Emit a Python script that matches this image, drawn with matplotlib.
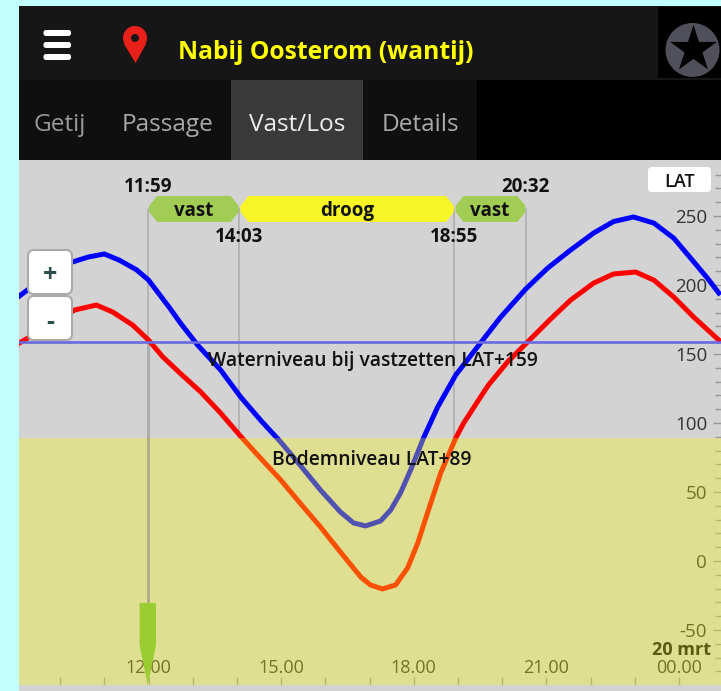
import matplotlib
matplotlib.use("Agg")
import matplotlib.pyplot as plt
from matplotlib.patches import FancyBboxPatch, Rectangle, Circle, Polygon

# --- data ---
blue_t = [9.08, 9.26, 10.28, 10.64, 11.0, 11.34, 11.73, 12.0, 12.48, 12.72, 13.11, 13.63, 14.08, 14.53, 14.99,
          15.44, 15.89, 16.34, 16.64, 16.91, 17.25, 17.48, 17.7, 17.93, 18.22, 18.54, 18.95, 19.51, 19.96,
          20.53, 21.03, 21.55, 22.07, 22.52, 22.97, 23.43, 23.88, 24.26, 24.64, 24.9]
blue_v = [192, 196.4, 216.7, 220.3, 222.5, 218, 211, 203.6, 183.3, 172.5, 156.5, 138.4, 119, 102.2, 86.2,
          69, 51.4, 35.5, 27.5, 25.4, 29, 37, 49.3, 66, 89.1, 111.5, 134.8, 158, 176.5,
          197, 212.3, 225.4, 237.7, 246, 249.3, 244.9, 234, 219.6, 205.1, 194.2]
red_t = [9.08, 9.31, 10.33, 10.82, 11.19, 11.64, 12.0, 12.32, 12.7, 13.18, 13.63, 14.08, 14.53, 14.99, 15.44,
         15.89, 16.34, 16.8, 17.02, 17.29, 17.59, 17.86, 18.09, 18.31, 18.61, 18.95, 19.13, 19.51, 19.69,
         20.12, 20.6, 21.1, 21.55, 22.07, 22.52, 23.02, 23.43, 23.88, 24.33, 24.9]
red_v = [158, 162.3, 181.9, 185.5, 180.4, 171, 160.1, 148, 136.5, 122.5, 107.2, 90.5, 74.6, 58.7, 41.5,
         24.6, 6.5, -11.6, -17.4, -20.3, -17.4, -5.1, 13, 34.8, 63.8, 89.1, 100, 118.8, 127.5,
         144.2, 159.5, 175.5, 189.1, 201.4, 208, 209.4, 203.6, 191.3, 176.8, 160.1]
water_level = 159
bottom_level = 89
water_label = "Waterniveau bij vastzetten LAT+159"
bottom_label = "Bodemniveau LAT+89"
phase_start = [11 + 59 / 60, 14 + 3 / 60, 18 + 55 / 60]
phase_end = [14 + 3 / 60, 18 + 55 / 60, 20 + 32 / 60]
phase_names = ["vast", "droog", "vast"]
phase_colors = ["#A2CD55", "#F6F626", "#A2CD55"]
time_marks = [11 + 59 / 60, 14 + 3 / 60, 18 + 55 / 60, 20 + 32 / 60]
time_labels = ["11:59", "14:03", "18:55", "20:32"]
mark_floor = [159, 89, 89, 159]
x_ticks = [12, 15, 18, 21, 24]
x_tick_labels = ["12.00", "15.00", "18.00", "21.00", "00.00"]
y_ticks = [-50, 0, 50, 100, 150, 200, 250]
tabs = ["Getij", "Passage", "Vast/Los", "Details"]
title = "Nabij Oosterom (wantij)"

FONT = "Open Sans"
plt.rcParams["font.family"] = [FONT, "DejaVu Sans"]
W, H = 721, 691
fig = plt.figure(figsize=(W / 100, H / 100), dpi=100, facecolor="#C4FFFF")

# chart axes
ax = fig.add_axes([19 / W, (H - 685) / H, (W - 19) / W, 525 / H], facecolor="#D3D3D3")
ax.set_xlim(9.07, 24.95)
ax.set_ylim(-89.9, 290.6)
for s in ax.spines.values():
    s.set_visible(False)
ax.set_axisbelow(True)
ax.yaxis.tick_right()
ax.set_xticks(x_ticks, x_tick_labels)
ax.set_xticks(range(10, 25), minor=True)
ax.set_yticks(y_ticks, [str(v) for v in y_ticks])
ax.set_yticks(range(-80, 290, 10), minor=True)
ax.tick_params(axis="x", which="both", direction="in", length=6, width=1, color="#999999",
               labelsize=13, labelcolor="#333333", pad=-19)
ax.tick_params(axis="y", which="major", direction="in", length=6, width=1, color="#999999",
               labelsize=13.5, labelcolor="#333333", pad=-10)
ax.tick_params(axis="y", which="minor", direction="in", length=4, width=1, color="#999999")
for lab in ax.get_yticklabels():
    lab.set_ha("right")

# time guide lines
for t, v in zip(time_marks, mark_floor):
    ax.plot([t, t], [v, 255], color="#ABABAB", lw=1.1, zorder=1.5)
ax.plot([time_marks[0], time_marks[0]], [bottom_level, water_level], color="#ABABAB", lw=2, zorder=1.5)
ax.plot([time_marks[0], time_marks[0]], [-31, bottom_level], color="#ABAB88", lw=2, zorder=3.5)

ax.plot(blue_t, blue_v, color="#0000FF", lw=3.6, zorder=2, solid_joinstyle="round")
ax.plot(red_t, red_v, color="#FF0000", lw=3.6, zorder=2, solid_joinstyle="round")
ax.axhline(water_level, color="#6A6AE0", lw=1.9, zorder=2.2)

ax.axhspan(-89.9, bottom_level, color="#F8F810", alpha=0.33, lw=0, zorder=3)

# status pills
cut_t, flat_v, pill_lo, pill_hi = 0.18, 2.2, 245.7, 264.5
for a, b, n, c in zip(phase_start, phase_end, phase_names, phase_colors):
    mid = (pill_lo + pill_hi) / 2
    a1, b1 = a + 0.03, b - 0.01
    ax.fill([a1, a1, a1 + cut_t, b1 - cut_t, b1, b1, b1 - cut_t, a1 + cut_t],
            [mid - flat_v, mid + flat_v, pill_hi, pill_hi, mid + flat_v, mid - flat_v, pill_lo, pill_lo],
            color=c, lw=0, zorder=4)
    ax.text((a + b) / 2, mid, n, ha="center", va="center_baseline", fontsize=13.5,
            fontweight="bold", color="#111111", zorder=5)

for i, (t, lab) in enumerate(zip(time_marks, time_labels)):
    ax.text(t, 272.5 if i in (0, 3) else 236.5, lab, ha="center", va="center_baseline", fontsize=13.5,
            fontweight="bold", color="#111111", zorder=5)

# arrow
t0 = time_marks[0]
ax.fill([t0 - 0.185, t0 + 0.185, t0 + 0.185, t0, t0 - 0.185], [-30.4, -30.4, -61, -89.9, -61],
        color="#9ACD32", lw=0, zorder=6)

ax.text(17.07, 147, water_label, ha="center", va="center_baseline", fontsize=13.9, fontweight="semibold", color="#111111", zorder=7)
ax.text(17.06, 75, bottom_label, ha="center", va="center_baseline", fontsize=13.9, fontweight="semibold", color="#111111", zorder=7)
ax.text(24.72, -63, "20 mrt", ha="right", va="center_baseline", fontsize=13, fontweight="bold", color="#5A5A10", zorder=7)

# chrome layer in pixel coordinates
ui = fig.add_axes([0, 0, 1, 1], facecolor="none")
ui.set_xlim(0, W)
ui.set_ylim(H, 0)
ui.axis("off")


def rect(x0, y0, x1, y1, c):
    ui.add_patch(Rectangle((x0, y0), x1 - x0, y1 - y0, fc=c, ec="none"))


def rbox(x0, y0, x1, y1, r, fc, ec="none", lw=0):
    ui.add_patch(FancyBboxPatch((x0 + r, y0 + r), x1 - x0 - 2 * r, y1 - y0 - 2 * r,
                                boxstyle=f"round,pad={r}", fc=fc, ec=ec, lw=lw))


rect(19, 6, W, 80, "#161616")
rect(19, 80, W, 160, "#000000")
rect(19, 80, 231, 160, "#0F0F0F")
rect(231, 80, 363, 160, "#3A3A3A")
rect(363, 80, 477, 160, "#0F0F0F")
rect(19, 685, W, H, "#D3D3D3")
rect(658, 7, W, 78, "#000000")

for y in (33, 45, 57):
    rbox(43.5, y - 3, 71, y + 3, 2.5, "white")

ui.add_patch(Circle((135, 38), 12, fc="#E8201A", ec="none"))
ui.add_patch(Polygon([(124, 44), (146, 44), (135.5, 63)], fc="#E8201A", ec="none"))
ui.add_patch(Circle((135, 38), 4, fc="#161616", ec="none"))

ui.text(178, 49, title, ha="left", va="center_baseline", fontsize=17.7, fontweight="bold", color="#FFFF00")
for x, t, c in zip((60, 167.5, 297, 420), tabs, ("#999999", "#AAAAAA", "#EEEEEE", "#AAAAAA")):
    ui.text(x, 122, t, ha="center", va="center_baseline", fontsize=17.6, color=c)

ui.add_patch(Circle((692.5, 50), 27, fc="#50505A", ec="none"))
ui.scatter([692.5], [49], marker="*", s=1250, c="black", lw=0, zorder=3)

rbox(648, 167, 711, 192, 4, "white")
ui.text(679.5, 179.5, "LAT", ha="center", va="center_baseline", fontsize=13, fontweight="semibold", color="#111111")
rbox(28, 250, 72, 294, 6, "white", "#AAAAAA", 1.5)
rbox(28, 296, 72, 340, 6, "white", "#AAAAAA", 1.5)
ui.text(50, 272, "+", ha="center", va="center_baseline", fontsize=18, fontweight="bold", color="#2F4F4F")
ui.text(50, 319, "-", ha="center", va="center_baseline", fontsize=18, fontweight="bold", color="#2F4F4F")

fig.savefig("out.png", dpi=100, facecolor=fig.get_facecolor())
